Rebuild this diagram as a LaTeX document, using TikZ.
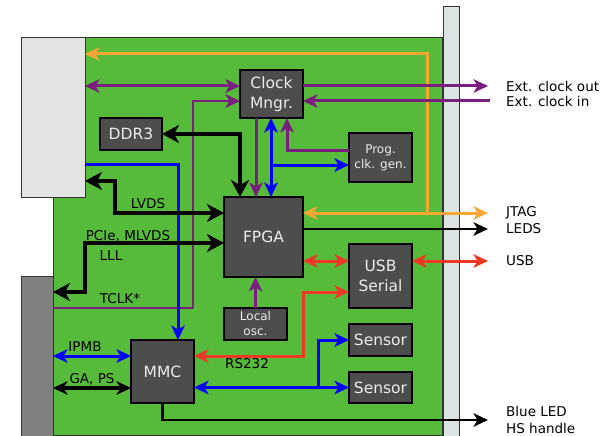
\documentclass[tikz,border=0pt]{standalone}
\usepackage{fontspec}
\setmainfont{DejaVu Sans}
\usepackage{tikz}
\usetikzlibrary{arrows.meta, positioning}
\definecolor{BoardGreen}{HTML}{56BA3A}
\definecolor{RtmGray}{HTML}{E3E3E3}
\definecolor{AmcGray}{HTML}{808080}
\definecolor{PanelGray}{HTML}{DBE3E3}
\definecolor{ChipGray}{HTML}{4D4D4D}
\definecolor{ChipText}{HTML}{EBEBEB}
\definecolor{FrameInk}{HTML}{333333}
\definecolor{JtagOrange}{HTML}{F7A734}
\definecolor{ClkPurple}{HTML}{7A1F7F}
\definecolor{BusBlue}{HTML}{0000FF}
\definecolor{SerRed}{HTML}{EE3A24}

\begin{document}
\begin{tikzpicture}[
    x=1pt, y=-1pt,
    font=\fontsize{13.5}{16}\selectfont,
    chip/.style={
      draw=black,
      line width=1.2pt,
      fill=ChipGray,
      text=ChipText,
      inner sep=0pt,
      outer sep=0pt,
      align=center,
      font=\fontsize{15.5}{19.5}\selectfont,
    },
    smallchip/.style={chip, font=\fontsize{12}{15}\selectfont},
    slot/.style={draw=FrameInk, line width=1pt, inner sep=0pt, outer sep=0pt},
    fat/.style={line width=4.3pt, >={Stealth[length=17pt,width=18pt,inset=5pt]}},
    wire/.style={line width=3pt, >={Stealth[length=14.5pt,width=13.5pt,inset=4pt]}},
    lab/.style={inner sep=0pt, text=black},
    extlab/.style={lab, anchor=west},
  ]
    \useasboundingbox (0,0) rectangle (611,436);

    % board, connectors and front panel
    \node[slot, fill=BoardGreen, minimum width=389pt, minimum height=397pt] (board) at (247.5,236.5) {};
    \node[slot, fill=RtmGray, minimum width=64pt, minimum height=159pt] (rtm) at (53,117.5) {};
    \node[slot, fill=AmcGray, minimum width=32pt, minimum height=164pt] (amc) at (37,358) {};
    \node[slot, fill=PanelGray, minimum width=16pt, minimum height=434pt] (panel) at (451,224) {};

    % chips
    \node[chip, minimum width=63pt, minimum height=48pt] (clk) at (271.5,94) {Clock\\Mngr.};
    \node[chip, minimum width=62pt, minimum height=32pt] (ddr) at (131,134) {DDR3};
    \node[chip, minimum width=79pt, minimum height=80pt] (fpga) at (263.5,237) {FPGA};
    \node[smallchip, minimum width=63pt, minimum height=49pt] (prog) at (380.5,157.5) {Prog.\\clk. gen.};
    \node[chip, minimum width=63pt, minimum height=64pt] (usb) at (380.5,276) {USB\\Serial};
    \node[smallchip, minimum width=63pt, minimum height=32pt] (osc) at (255.5,324) {Local\\osc.};
    \node[chip, minimum width=63pt, minimum height=32pt] (sensA) at (380.5,340) {Sensor};
    \node[chip, minimum width=63pt, minimum height=31pt] (sensB) at (380.5,387.5) {Sensor};
    \node[chip, minimum width=63pt, minimum height=63pt] (mmc) at (162.5,371.5) {MMC};

    % free ends and bends
    \coordinate (clkout) at (488,86);
    \coordinate (clkin) at (490,101);
    \coordinate (jtag) at (488,213);
    \coordinate (leds) at (488,229);
    \coordinate (usbout) at (488,261);
    \coordinate (led) at (488,420);
    \coordinate (jtagfork) at (427,213);
    \coordinate (jtagtop) at (427,54);
    \coordinate (tclk) at (193,308);
    \coordinate (xclk) at (256,0);
    \coordinate (progclk) at (287,150);
    \coordinate (progbus) at (271,165);
    \coordinate (mmcbus) at (178,164);
    \coordinate (ddrbus) at (240,134);
    \coordinate (lvds) at (115,181);
    \coordinate (pcie) at (85,292);
    \coordinate (ypcie) at (0,243);
    \coordinate (ipmb) at (0,356);
    \coordinate (gaps) at (0,388);
    \coordinate (rsbend) at (303,292);
    \coordinate (sensfork) at (318,387.5);

    % jtag
    \draw[wire, JtagOrange, <->] (fpga.east |- jtag) -- (jtag);
    \draw[wire, JtagOrange, ->] (jtagfork) -- (jtagtop) -- (rtm.east |- jtagtop);

    % clocks
    \draw[wire, ClkPurple, ->] (clk.east |- clkout) -- (clkout);
    \draw[wire, ClkPurple, ->] (clkin) -- (clk.east |- clkin);
    \draw[wire, ClkPurple, <->] (rtm.east |- clkout) -- (clk.west |- clkout);
    \draw[wire, ClkPurple, line width=2.7pt, ->] (amc.east |- tclk) -- (tclk) |- (clk.west |- clkin);
    \draw[wire, ClkPurple, ->] (clk.south -| xclk) -- (fpga.north -| xclk);
    \draw[wire, ClkPurple, ->] (prog.west |- progclk) -- (progclk) -- (clk.south -| progclk);
    \draw[wire, ClkPurple, ->] (osc.north) -- (fpga.south -| osc.north);

    % i2c / ipmb
    \draw[wire, BusBlue, <->] (clk.south -| progbus) -- (fpga.north -| progbus);
    \draw[wire, BusBlue, ->] (progbus) -- (prog.west |- progbus);
    \draw[wire, BusBlue, ->] (rtm.east |- mmcbus) -- (mmcbus) -- (mmc.north -| mmcbus);
    \draw[wire, BusBlue, <->] (amc.east |- ipmb) -- (mmc.west |- ipmb);
    \draw[wire, BusBlue, <->] (mmc.east |- sensB) -- (sensB.west);
    \draw[wire, BusBlue, ->] (sensfork) |- (sensA.west);

    % serial
    \draw[wire, SerRed, <->] (fpga.east |- usbout) -- (usb.west |- usbout);
    \draw[wire, SerRed, <->] (usb.east |- usbout) -- (usbout);
    \draw[wire, SerRed, <->] (usb.west |- rsbend) -- (rsbend) |- (mmc.east |- ipmb);

    % data
    \draw[fat, <->] (ddr.east) -- (ddrbus) -- (fpga.north -| ddrbus);
    \draw[fat, <->] (rtm.east |- lvds) -- (lvds) |- (fpga.west |- jtag);
    \draw[fat, <->] (amc.east |- pcie) -- (pcie) |- (fpga.west |- ypcie);
    \draw[wire, line width=2.6pt, ->] (fpga.east |- leds) -- (leds);
    \draw[wire, line width=3.4pt, <->] (amc.east |- gaps) -- (mmc.west |- gaps);
    \draw[wire, line width=2.6pt, ->] (mmc.south) |- (led);

    % labels
    \node[lab] (llvds) at (148,204) {LVDS};
    \node[lab] (lpcie) at (128,236) {PCIe, MLVDS};
    \node[lab] (llll) at (111,256) {LLL};
    \node[lab] (ltclk) at (120,299) {TCLK*};
    \node[lab] (lipmb) at (85,347) {IPMB};
    \node[lab] (lgaps) at (92,379) {GA, PS};
    \node[lab] (lrs) at (247,364) {RS232};
    \node[extlab] (lclkout) at (506,86) {Ext. clock out};
    \node[extlab] (lclkin) at (506,101) {Ext. clock in};
    \node[extlab] (ljtag) at (506,213) {JTAG};
    \node[extlab] (lleds) at (506,229) {LEDS};
    \node[extlab] (lusb) at (506,261) {USB};
    \node[extlab] (lled) at (506,411) {Blue LED};
    \node[extlab] (lhs) at (506,428) {HS handle};
  \end{tikzpicture}
\end{document}
